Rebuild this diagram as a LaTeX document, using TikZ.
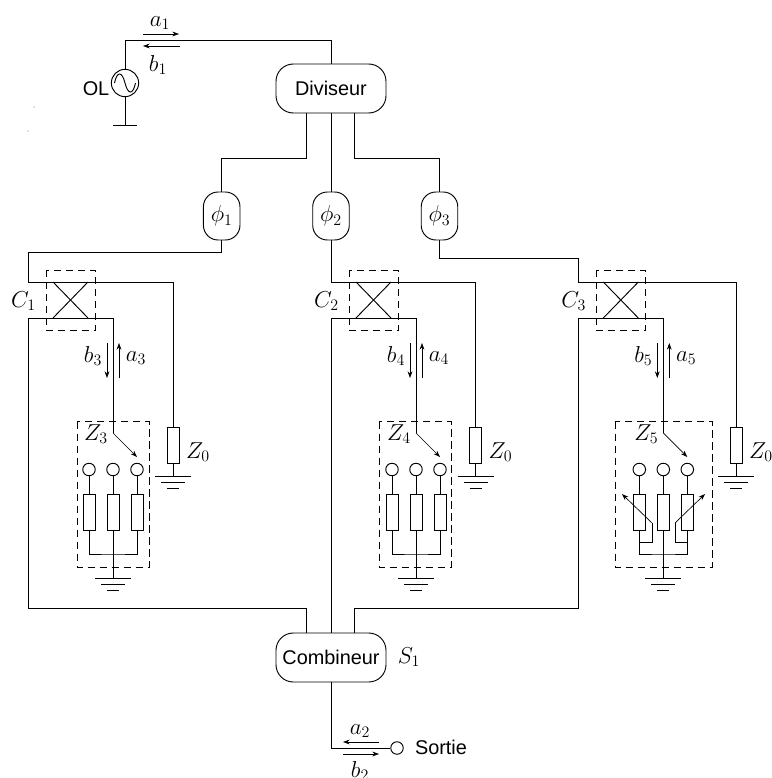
\documentclass[tikz,border=0pt]{standalone}
\usepackage{fontspec}
\setmainfont{Liberation Sans}
\usetikzlibrary{positioning}
\usetikzlibrary{arrows.meta}
\tikzset{
	wire/.style={line width=.7pt},
	arr/.style={line width=.5pt, -{Stealth[length=5pt,width=3.6pt]}},
	bloc/.style={draw, line width=.7pt, rounded corners=13pt, inner sep=0pt, minimum width=82.5pt, minimum height=36.75pt},
	dephaseur/.style={draw, line width=.7pt, rounded corners=11pt, inner sep=0pt, minimum width=27.4pt, minimum height=36pt},
	res/.style={draw, line width=.7pt, inner sep=0pt, minimum width=9pt, minimum height=27pt},
	plot/.style={draw, circle, line width=.7pt, inner sep=0pt, minimum size=9.4pt},
	cadre/.style={draw, dashed, dash pattern=on 5.5pt off 3.5pt, line width=.55pt},
	lab/.style={font=\fontsize{17.28}{18}\selectfont, inner sep=0pt},
	txt/.style={font=\fontsize{14.9}{16}\selectfont, inner sep=0pt},
	masse/.pic={
		\draw[wire] (-18,0) -- (18,0) (-12,6) -- (12,6) (-6,12.5) -- (6,12.5);
	}
}
\begin{document}
\begin{tikzpicture}[x=.75pt, y=-.75pt]
	\useasboundingbox (0,0) rectangle (771,778);
	% blocs
	\node[bloc, txt] (div) at (331,88.5) {Diviseur};
	\node[bloc, txt] (comb) at (331,657.5) {Combineur};
	\node[lab] (s1) at (409,657) {$S_1$};
	\foreach \i/\x in {1/221.7, 2/331, 3/439.5}{
		\node[dephaseur, lab] (phi\i) at (\x,216) {$\phi_\i$};
	}
	% source
	\node[draw, circle, line width=.7pt, minimum size=20.5pt, inner sep=0pt] (ol) at (125,83) {};
	\draw[wire] (114.5,83) .. controls (117,71) and (122,71) .. (125,83) .. controls (128,95) and (133,95) .. (135.5,83);
	\node[txt, left=1pt of ol.west, yshift=-4.5pt] (oltxt) {OL};
	\coordinate (haut) at (125,40);
	\coordinate (olm) at (125,125);
	\draw[wire] (ol.north) -- (haut) -| (div.north);
	\draw[wire] (ol.south) -- (olm);
	\draw[wire] (113,125) -- (137,125);
	\fill[gray] (34,107) circle (.4pt) (28,131) circle (.4pt);
	\coordinate (a1d) at (143,34);
	\coordinate (a1f) at (179,34);
	\coordinate (b1d) at (180,46);
	\coordinate (b1f) at (143,46);
	\draw[arr] (a1d) -- (a1f);
	\draw[arr] (b1d) -- (b1f);
	\node[lab] (a1) at (160,23) {$a_1$};
	\node[lab] (b1) at (158,65) {$b_1$};
	% vers les dephaseurs
	\coordinate (d1) at (306.7,158);
	\coordinate (d3) at (354.7,158);
	\draw[wire] (div.south -| d1) -- (d1) -| (phi1.north);
	\draw[wire] (div.south -| d3) -- (d3) -| (phi3.north);
	\draw[wire] (div.south) -- (phi2.north);
	% coupleurs et charges
	\foreach \i/\k/\dx/\dz in {1/3/0/0, 2/4/303/302.5, 3/5/550.3/563}{
		\coordinate (tl\i) at (28+\dx,282);
		\coordinate (bl\i) at (28+\dx,318);
		\coordinate (cr\i) at (53+\dx,282);
		\coordinate (cs\i) at (88+\dx,282);
		\coordinate (ct\i) at (53+\dx,318);
		\coordinate (cu\i) at (88+\dx,318);
		\coordinate (sw\i) at (113+\dx,433);
		\coordinate (br\i) at (113+\dx,318);
		\coordinate (tr\i) at (173+\dz,282);
		\coordinate (sf\i) at (137+\dx,457);
		\draw[wire] (tl\i) -- (tr\i);
		\draw[wire] (bl\i) -- (br\i) -- (sw\i);
		\draw[wire] (cr\i) -- (cu\i);
		\draw[wire] (ct\i) -- (cs\i);
		\draw[cadre] (46+\dx,270) rectangle (95+\dx,330.5);
		\node[lab] (c\i) at (23.5+\dx,301) {$C_\i$};
		% ondes
		\draw[arr] (107+\dx,343) -- (107+\dx,378);
		\draw[arr] (119+\dx,378) -- (119+\dx,343);
		\node[lab] (b\k) at (93+\dx,356) {$b_\k$};
		\node[lab] (a\k) at (136+\dx,358) {$a_\k$};
		% charge Z0
		\node[res] (r0\i) at (173+\dz,445.5) {};
		\node[lab] (z0\i) at (198+\dz,452) {$Z_0$};
		\coordinate (m0\i) at (173+\dz,476);
		\draw[wire] (tr\i) -- (r0\i.north);
		\draw[wire] (r0\i.south) -- (m0\i);
		\pic at (m0\i) {masse};
		% commutateur
		\draw[arr] (sw\i) -- (sf\i);
		\node[lab] (z\k) at (96+\dx,434) {$Z_\k$};
		\foreach \j/\e in {1/-24, 2/0, 3/24}{
			\node[plot] (p\i\j) at (113+\dx+\e,469.5) {};
			\node[res] (r\i\j) at (113+\dx+\e,512) {};
			\draw[wire] (p\i\j) -- (r\i\j.north);
		}
		\coordinate (j\i) at (113+\dx,554);
		\coordinate (m\i) at (113+\dx,578);
		\draw[wire] (r\i1.south) |- (j\i) -| (r\i3.south);
		\draw[wire] (r\i2.south) -- (m\i);
		\pic at (m\i) {masse};
	}
	\draw[cadre] (77,421.5) rectangle (149,567);
	\draw[cadre] (379,421.5) rectangle (451,567);
	\draw[cadre] (615,421.5) rectangle (712,567);
	% resistances variables
	\coordinate (vg) at (652,523);
	\coordinate (vd) at (675,523);
	\draw[arr] (vg) -- (622,494);
	\draw[arr] (vd) -- (705,494);
	\draw[wire] (vg) -- (652,542) -- (639.3,542);
	\draw[wire] (vd) -- (675,542) -- (687.3,542);
	% liaisons des dephaseurs
	\coordinate (l1) at (28,252);
	\coordinate (l3) at (578.3,258);
	\draw[wire] (phi1.south) |- (l1) -- (tl1);
	\draw[wire] (phi2.south) -- (tl2);
	\draw[wire] (phi3.south) |- (l3) -- (tl3);
	% vers le combineur
	\coordinate (e1) at (306.7,608);
	\coordinate (e3) at (354.7,608);
	\draw[wire] (bl1) |- (e1) -- (comb.north -| e1);
	\draw[wire] (bl2) -- (comb.north -| bl2);
	\draw[wire] (bl3) |- (e3) -- (comb.north -| e3);
	% sortie
	\node[plot] (so) at (397,748) {};
	\coordinate (sc) at (331,748);
	\draw[wire] (comb.south -| sc) -- (sc) -- (so);
	\node[txt] (sotxt) at (441,747) {Sortie};
	\draw[arr] (379,742) -- (343,742);
	\draw[arr] (343,754) -- (379,754);
	\node[lab] (a2) at (360,731) {$a_2$};
	\node[lab] (b2) at (360,771) {$b_2$};
\end{tikzpicture}
\end{document}
